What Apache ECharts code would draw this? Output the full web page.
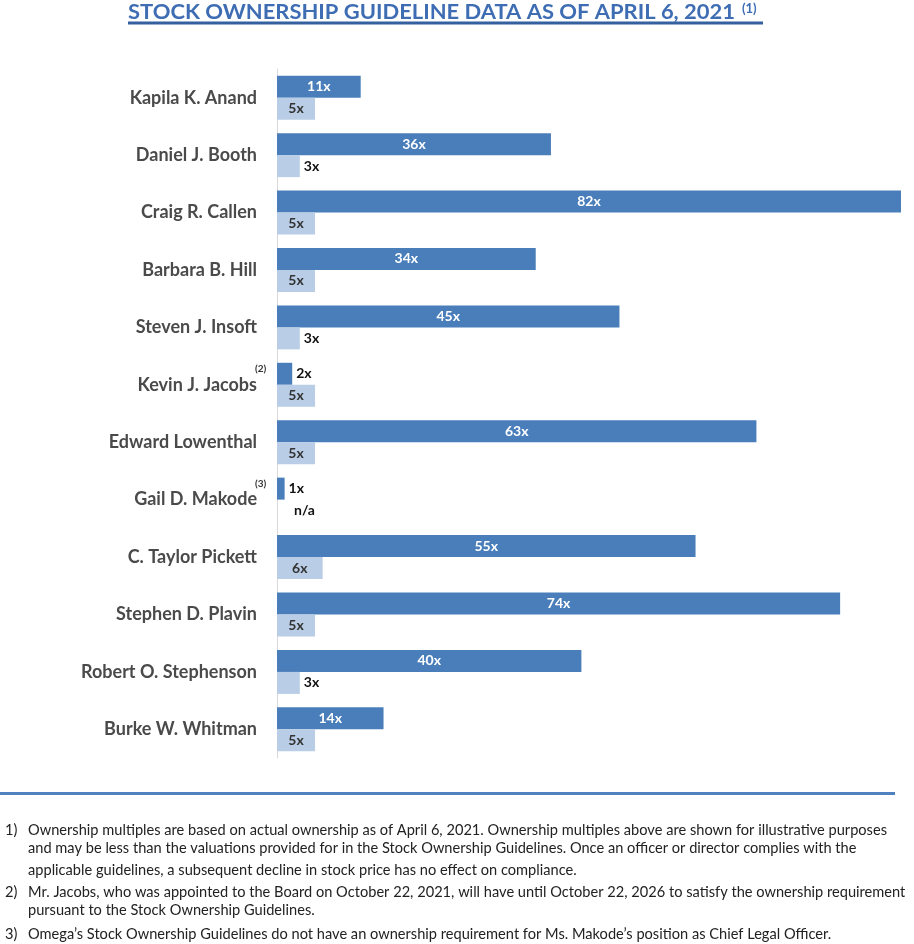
<!DOCTYPE html>
<html>
<head>
<meta charset="utf-8">
<script src="https://cdn.jsdelivr.net/npm/echarts@6/dist/echarts.min.js"></script>
<style>
html,body{margin:0;padding:0;background:#fff;}
#chart{width:914px;height:944px;}
</style>
</head>
<body>
<div id="chart"></div>
<script>
const categories = ['Kapila K. Anand','Daniel J. Booth','Craig R. Callen','Barbara B. Hill','Steven J. Insoft','Kevin J. Jacobs','Edward Lowenthal','Gail D. Makode','C. Taylor Pickett','Stephen D. Plavin','Robert O. Stephenson','Burke W. Whitman'];
const ownership = [11,36,82,34,45,2,63,1,55,74,40,14];
const guideline = [5,3,5,5,3,5,5,null,6,5,3,5];
const nameMarks = {'Kevin J. Jacobs':'(2)','Gail D. Makode':'(3)'};
const titleText = 'STOCK OWNERSHIP GUIDELINE DATA AS OF APRIL 6, 2021';
const titleMark = '(1)';
const footnotes = [
  ['1)','Ownership multiples are based on actual ownership as of April 6, 2021. Ownership multiples above are shown for illustrative purposes'],
  ['','and may be less than the valuations provided for in the Stock Ownership Guidelines. Once an officer or director complies with the'],
  ['','applicable guidelines, a subsequent decline in stock price has no effect on compliance.'],
  ['2)','Mr. Jacobs, who was appointed to the Board on October 22, 2021, will have until October 22, 2026 to satisfy the ownership requirement'],
  ['','pursuant to the Stock Ownership Guidelines.'],
  ['3)','Omega\u2019s Stock Ownership Guidelines do not have an ownership requirement for Ms. Makode\u2019s position as Chief Legal Officer.']
];

const DARK = '#4a7ebb', LIGHT = '#b9cde6';
const labelFont = 'Lato';

function measure(text, font){
  const c = document.createElement('canvas').getContext('2d');
  c.font = font; return c.measureText(text).width;
}

function barItems(arr, insideColor){
  return arr.map(v => {
    if (v === null) {
      return {value:0, label:{show:true, position:'right', distance:17, formatter:'n/a', color:'#111'}};
    }
    const small = v < 4;
    return {value:v, label:{show:true, position: small ? 'right' : 'inside', distance:4, color: small ? '#111' : insideColor}};
  });
}

const chart = echarts.init(document.getElementById('chart'), null, {renderer:'canvas'});

const baseLabel = {fontFamily:labelFont, fontWeight:'bold', fontSize:14, formatter:'{c}x'};

chart.setOption({
  animation:false,
  backgroundColor:'#fff',
  grid:{left:277, right:13, top:69, height:689, containLabel:false},
  xAxis:{type:'value', min:0, max:82, show:false},
  yAxis:{
    type:'category', inverse:true, data:categories,
    axisLine:{show:true, lineStyle:{color:'#d9d9d9', width:1}},
    axisTick:{show:false},
    axisLabel:{margin:20, color:'#4a4a4a', fontFamily:labelFont, fontWeight:'bold', fontSize:18}
  },
  series:[
    {type:'bar', name:'Ownership', data:barItems(ownership,'#ffffff'), barWidth:22, barGap:'0%',
     itemStyle:{color:DARK}, label:Object.assign({}, baseLabel)},
    {type:'bar', name:'Guideline', data:barItems(guideline,'#333333'), barWidth:22, barGap:'0%',
     itemStyle:{color:LIGHT}, label:Object.assign({}, baseLabel)}
  ]
});

// decorations
const graphics = [];
const titleFont = 'bold 21px Lato';
const tW = measure(titleText, titleFont);
graphics.push({type:'text', x:128, y:12.5, scaleX:607/tW, style:{text:titleText, font:titleFont, fill:'#3e6db3', verticalAlign:'middle', align:'left'}});
graphics.push({type:'text', x:742, y:9, style:{text:titleMark, font:'bold 13px Lato', fill:'#3e6db3', verticalAlign:'middle', align:'left'}});
graphics.push({type:'rect', shape:{x:128, y:21.5, width:635, height:3}, style:{fill:'#34609f'}});

// superscripts on category names
const x0 = chart.convertToPixel({xAxisIndex:0}, 0);
Object.keys(nameMarks).forEach(n => {
  const y = chart.convertToPixel({yAxisIndex:0}, n);
  graphics.push({type:'text', x:x0-22, y:y-16, style:{text:nameMarks[n], font:'bold 10px Lato', fill:'#333', verticalAlign:'middle', align:'left'}});
});

// separator
graphics.push({type:'rect', shape:{x:0, y:792, width:895, height:3}, style:{fill:'#4f80c0'}});

// footnotes
const fFont = '16px Lato';
const fScale = 859 / measure(footnotes[0][1], fFont);
const fy = [829.5, 848, 870, 891.5, 910, 933.5];
footnotes.forEach((f, i) => {
  if (f[0]) graphics.push({type:'text', x:5, y:fy[i], scaleX:fScale, style:{text:f[0], font:fFont, fill:'#222', verticalAlign:'middle', align:'left'}});
  graphics.push({type:'text', x:28, y:fy[i], scaleX:fScale, style:{text:f[1], font:fFont, fill:'#222', verticalAlign:'middle', align:'left'}});
});

chart.setOption({graphic:{elements:graphics}});
</script>
</body>
</html>
